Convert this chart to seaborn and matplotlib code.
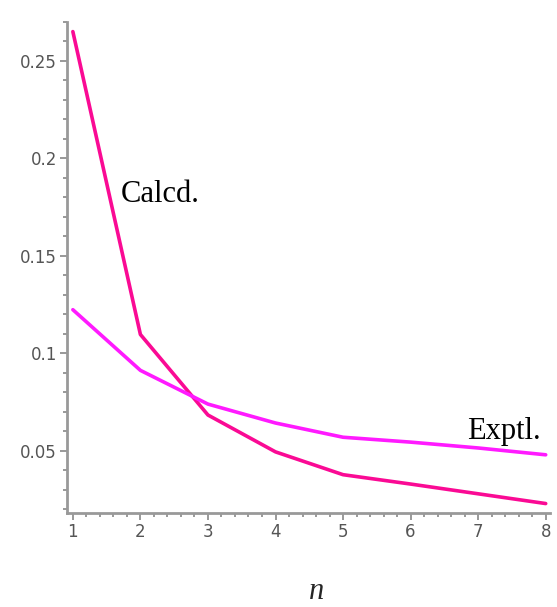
import matplotlib
matplotlib.use("Agg")
import matplotlib.pyplot as plt
import seaborn as sns
import pandas as pd
from matplotlib.ticker import MultipleLocator

n = [1, 2, 3, 4, 5, 6, 7, 8]
calcd = [0.265, 0.1097, 0.0684, 0.0495, 0.0378, 0.0330, 0.0280, 0.0230]
exptl = [0.1224, 0.0913, 0.0740, 0.0643, 0.0570, 0.0545, 0.0515, 0.0480]

df = pd.DataFrame({
    "n": n * 2,
    "value": calcd + exptl,
    "serie": ["Calcd."] * len(n) + ["Exptl."] * len(n),
})

sns.set_style("white")

fig = plt.figure(figsize=(5.57, 6.07), dpi=100)
ax = fig.add_axes([0.120, 0.155, 0.867, 0.809])

sns.lineplot(data=df, x="n", y="value", hue="serie",
             palette={"Calcd.": "#fa0a94", "Exptl.": "#ff1aff"},
             linewidth=2.6, legend=False, ax=ax)

ax.set_xlim(0.911, 8.06)
ax.set_ylim(0.0182, 0.27)

ax.xaxis.set_major_locator(MultipleLocator(1))
ax.xaxis.set_minor_locator(MultipleLocator(0.2))
ax.yaxis.set_minor_locator(MultipleLocator(0.01))
ax.set_yticks([0.05, 0.1, 0.15, 0.2, 0.25])
ax.set_yticklabels(["0.05", "0.1", "0.15", "0.2", "0.25"])

for s in ["top", "right"]:
    ax.spines[s].set_visible(False)
for s in ["left", "bottom"]:
    ax.spines[s].set_color("#999999")
    ax.spines[s].set_linewidth(2)

ax.tick_params(which="major", direction="out", length=5, width=1.2, pad=2,
               color="#888888", labelsize=12, labelcolor="#555555", left=True, bottom=True)
ax.tick_params(which="minor", direction="out", length=3, width=1.2,
               color="#888888", left=True, bottom=True)

ax.text(1.71, 0.1774, "Calcd.", family="Liberation Serif", fontsize=22, color="black")
ax.text(6.83, 0.0562, "Exptl.", family="Liberation Serif", fontsize=22, color="black")

ax.set_xlabel("")
ax.set_ylabel("")
fig.text(317 / 557, 8 / 607, "n", family="Liberation Serif", style="italic",
         fontsize=22, ha="center", va="baseline")

fig.savefig("out.png", dpi=100)
